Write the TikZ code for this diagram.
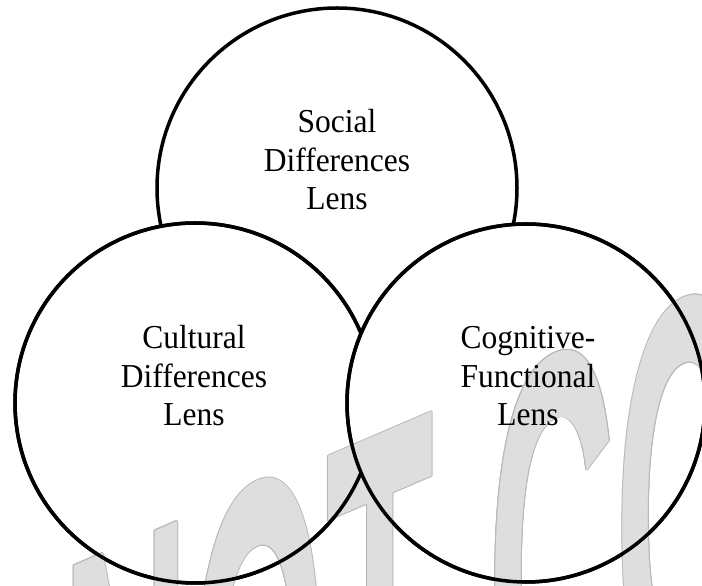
\documentclass[tikz,border=0pt]{standalone}
\usepackage{fontspec}
\setmainfont{Liberation Serif}[FakeStretch=0.94]
\newfontfamily\markfont{Liberation Sans Bold}
\definecolor{markgray}{HTML}{DEDEDE}
\definecolor{markedge}{HTML}{B8B8B8}
\begin{document}
\begin{tikzpicture}[x=1pt,y=1pt,
  lens/.style={circle, draw=black, line width=3.5pt, fill=white, inner sep=0pt},
  rim/.style={draw=black, line width=3.5pt},
  lenstext/.style={align=center, inner sep=0pt, font=\fontsize{33.5}{38.5}\selectfont},
  marktext/.style={anchor=base west, inner sep=0pt, transform shape,
                   font=\markfont\fontsize{176}{176}\selectfont},
  markframe/.style={shift={(#1)}, yslant=0.43, yscale=3.3},
]
\useasboundingbox (0,0) rectangle (702,586);
\clip (0,0) rectangle (702,586);

% the three lenses, later ones covering earlier ones
\node[lens, minimum size=360pt] (social) at (337,398) {};
\node[lens, minimum size=360pt] (cultural) at (195,183) {};
\node[lens, minimum size=358pt] (cognitive) at (526,183) {};

% slanted watermark lettering: a thin grey rim, then the light fill
\foreach \dx/\dy [count=\k] in {0.9/0, -0.9/0, 0/0.9, 0/-0.9, 0.65/0.65, -0.65/0.65, 0.65/-0.65, -0.65/-0.65} {
  \begin{scope}[markframe={62+\dx,-384.5+\dy}]
    \node[marktext, text=markedge] (markrim\k) at (0,0) {NOT\hspace{55pt}CO};
  \end{scope}
}
\begin{scope}[markframe={62,-384.5}]
  \node[marktext, text=markgray] (mark) at (0,0) {NOT\hspace{55pt}CO};
\end{scope}

% outlines of the two lower lenses stay above the watermark
\begin{scope}[even odd rule]
  \clip (0,0) rectangle (702,586) (cognitive.center) circle (179pt);
  \draw[rim] (cultural.center) circle (180pt);
\end{scope}
\draw[rim] (cognitive.center) circle (179pt);

% lens titles (anchored on the baseline of the last line)
\node[lenstext, anchor=base] (socialtext) at (337,376) {Social\\Differences\\Lens};
\node[lenstext, anchor=base] (culturaltext) at (194,160) {Cultural\\Differences\\Lens};
\node[lenstext, anchor=base] (cognitivetext) at (528,160) {Cognitive-\\Functional\\Lens};
\end{tikzpicture}
\end{document}
